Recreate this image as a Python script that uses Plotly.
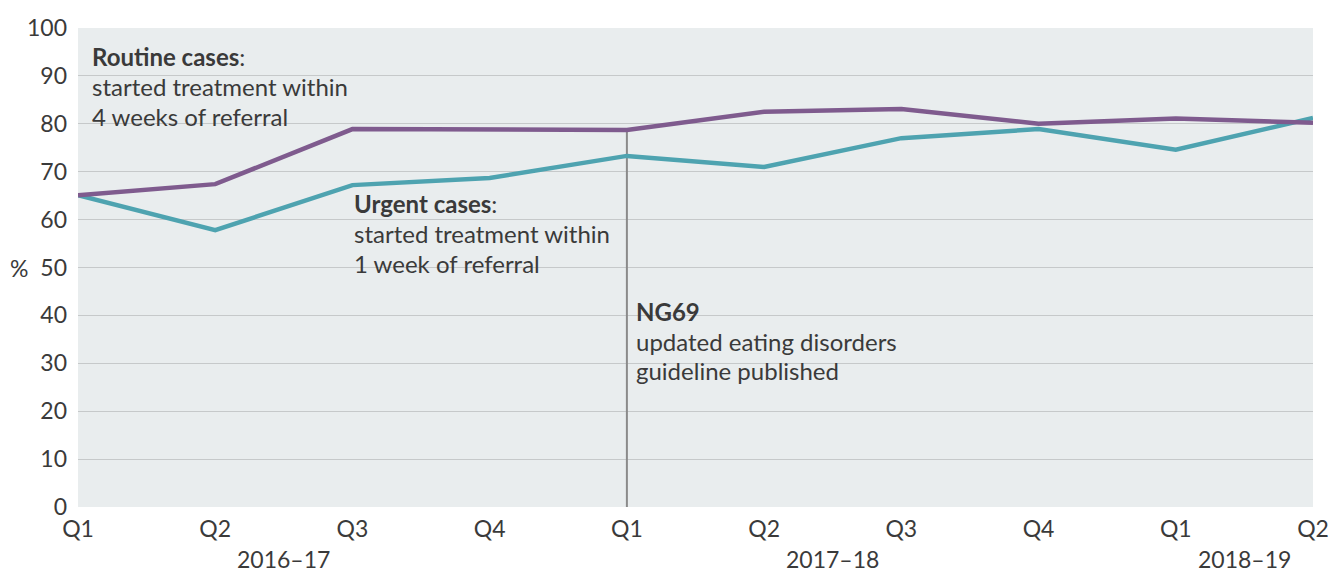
import plotly.graph_objects as go

quarters = ["Q1", "Q2", "Q3", "Q4", "Q1", "Q2", "Q3", "Q4", "Q1", "Q2"]
years = ["2016–17", "2017–18", "2018–19"]
year_pos = [1.5, 5.5, 8.5]
routine = [65.1, 67.4, 78.9, 78.8, 78.7, 82.5, 83.1, 80.0, 81.1, 80.2]
urgent = [65.1, 57.8, 67.2, 68.7, 73.3, 71.0, 77.0, 78.9, 74.6, 81.2]
x = list(range(len(quarters)))

PURPLE = "#7f5b8e"
TEAL = "#4ea3b0"
TXT = "#3a3a3a"
FONT = "Lato, 'Open Sans', sans-serif"
FS = 23
FA = 24

fig = go.Figure()
# guideline marker
fig.add_trace(go.Scatter(x=[4, 4], y=[0, routine[4]], mode="lines",
                         line=dict(color="#8a8a8a", width=2), hoverinfo="skip", showlegend=False))
fig.add_trace(go.Scatter(x=x, y=urgent, mode="lines", line=dict(color=TEAL, width=4.5),
                         showlegend=False))
fig.add_trace(go.Scatter(x=x, y=routine, mode="lines", line=dict(color=PURPLE, width=4.5),
                         showlegend=False))

def block(xp, ytop, lines):
    anns = []
    for i, t in enumerate(lines):
        anns.append(dict(x=xp, y=ytop - i * 6.2, xref="x", yref="y", text=t, showarrow=False,
                         xanchor="left", yanchor="middle", xshift=-2,
                         font=dict(size=FA, color=TXT, family=FONT)))
    return anns

annotations = []
annotations += block(0.1, 94.0, ["<b>Routine cases</b>:", "started treatment within", "4 weeks of referral"])
annotations += block(2.01, 63.3, ["<b>Urgent cases</b>:", "started treatment within", "1 week of referral"])
annotations += block(4.07, 40.8, ["<b>NG69</b>", "updated eating disorders", "guideline published"])
for yl, xp in zip(years, year_pos):
    annotations.append(dict(x=xp, y=0, xref="x", yref="paper", yshift=-52, text=yl, showarrow=False,
                            xanchor="center", yanchor="middle", font=dict(size=FS, color=TXT, family=FONT)))
annotations.append(dict(x=0, y=50, xref="paper", yref="y", xshift=-48, text="%", showarrow=False,
                        xanchor="right", yanchor="middle", font=dict(size=FS, color=TXT, family=FONT)))

fig.update_layout(
    width=1330, height=572,
    margin=dict(l=78, r=17, t=28, b=65),
    paper_bgcolor="white", plot_bgcolor="#e9edee",
    font=dict(family=FONT, size=FS, color=TXT),
    annotations=annotations,
    xaxis=dict(range=[0, 9], tickmode="array", tickvals=x, ticktext=quarters, showgrid=False,
               zeroline=False, showline=False, ticks="", automargin=False, ticklabelstandoff=6,
               tickfont=dict(size=FS, color=TXT)),
    yaxis=dict(range=[0, 100], tickmode="array", tickvals=list(range(0, 101, 10)), showgrid=True,
               gridcolor="#c6c9ca", gridwidth=1, zeroline=False, showline=False, ticks="",
               automargin=False, ticklabelstandoff=10, tickfont=dict(size=FS, color=TXT)),
)
fig.write_html("out.html", config={"displayModeBar": False},
               post_script="document.body.style.margin='0';document.body.style.overflow='hidden';")
